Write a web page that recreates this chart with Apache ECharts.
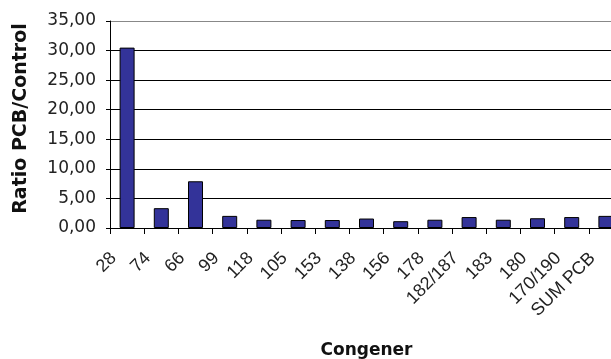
<!DOCTYPE html>
<html>
<head>
<meta charset="utf-8">
<script src="https://cdn.jsdelivr.net/npm/echarts@6/dist/echarts.min.js"></script>
<style>
  html, body { margin: 0; padding: 0; background: #fff; }
  #chart { width: 611px; height: 359px; }
</style>
</head>
<body>
<div id="chart"></div>
<script>
// PCB congeners and their exposure/control ratio
const congeners = ['28', '74', '66', '99', '118', '105', '153', '138', '156', '178', '182/187', '183', '180', '170/190', 'SUM PCB'];
const ratios = [30.5, 3.35, 7.9, 2.05, 1.4, 1.35, 1.35, 1.6, 1.15, 1.4, 1.85, 1.4, 1.65, 1.85, 2.05];
const yTicks = { min: 0, max: 35, interval: 5 };

const fmt = v => v.toFixed(2).replace('.', ',');

const chart = echarts.init(document.getElementById('chart'), null, { renderer: 'canvas' });
chart.setOption({
  animation: false,
  backgroundColor: '#fff',
  grid: { left: 110, right: -12, top: 21, bottom: 131, containLabel: false, outerBoundsMode: 'none' },
  xAxis: {
    type: 'category',
    data: congeners,
    name: 'Congener',
    nameLocation: 'middle',
    nameGap: 114,
    nameTextStyle: { fontFamily: 'DejaVu Sans', fontWeight: 'bold', fontSize: 17, color: '#111', verticalAlign: 'top' },
    axisLine: { lineStyle: { color: '#000', width: 1 } },
    axisTick: { show: true, length: 6, lineStyle: { color: '#000' } },
    axisLabel: {
      interval: 0, rotate: 45, margin: 14,
      padding: [0, 19, 0, 0],
      fontFamily: 'Liberation Sans', fontSize: 18, color: '#222'
    }
  },
  yAxis: {
    type: 'value',
    min: yTicks.min, max: yTicks.max, interval: yTicks.interval,
    name: 'Ratio PCB/Control',
    nameLocation: 'middle',
    nameGap: 79,
    nameRotate: 90,
    nameTextStyle: { fontFamily: 'DejaVu Sans', fontWeight: 'bold', fontSize: 19, color: '#111', padding: [0, 0, 0, 12] },
    axisLine: { show: true, lineStyle: { color: '#000', width: 1 } },
    axisTick: { show: true, length: 4, inside: false, lineStyle: { color: '#000' } },
    axisLabel: { formatter: fmt, margin: 14, fontFamily: 'DejaVu Sans', fontSize: 17, color: '#222' },
    splitLine: {
      show: true,
      lineStyle: { color: ['#000', '#000', '#000', '#000', '#000', '#000', '#000', '#888'], width: 1 }
    }
  },
  series: [{
    type: 'bar',
    data: ratios,
    barWidth: 15,
    itemStyle: { color: '#333399', borderColor: '#000', borderWidth: 1 }
  }]
});
</script>
</body>
</html>
